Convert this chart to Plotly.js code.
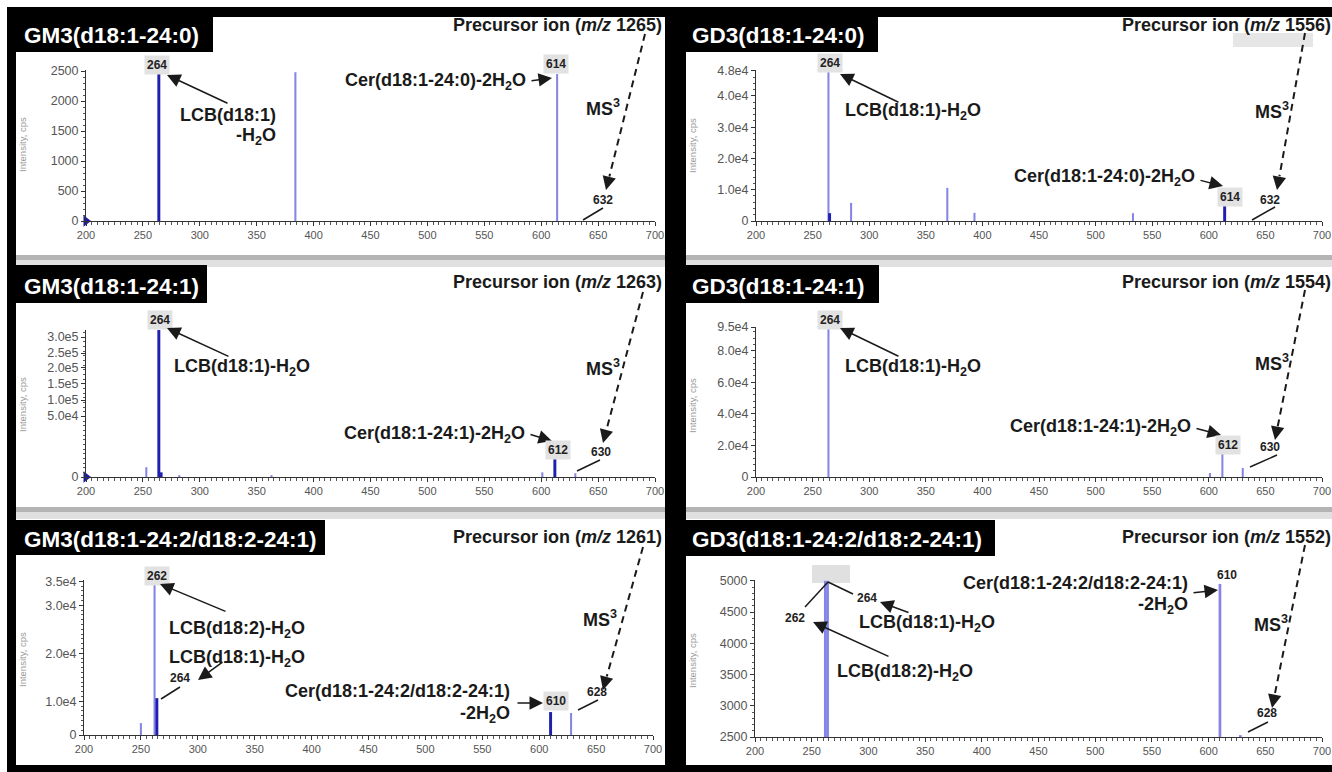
<!DOCTYPE html>
<html><head><meta charset="utf-8">
<script src="https://cdn.plot.ly/plotly-3.0.1.min.js"></script>
<style>html,body{margin:0;padding:0;background:#fff}</style>
</head><body><div id="chart" style="width:1332px;height:772px"></div>
<script>
// ---------------- DATA ----------------
const xTickVals = [200, 250, 300, 350, 400, 450, 500, 550, 600, 650, 700];
const xTickLabels = ['200','250','300','350','400','450','500','550','600','650','700'];

// GM3(d18:1-24:0)
const gm3_240_mz  = [264, 384, 614];
const gm3_240_int = [2500, 2480, 2450];
const gm3_240_yticks = [0, 500, 1000, 1500, 2000, 2500];
const gm3_240_ylabels = ['0','500','1000','1500','2000','2500'];

// GD3(d18:1-24:0)
const gd3_240_mz  = [264, 265, 284, 369, 393, 533, 614];
const gd3_240_int = [48000, 2500, 5800, 10600, 2600, 2500, 5500];
const gd3_240_yticks = [0, 10000, 20000, 30000, 40000, 48000];
const gd3_240_ylabels = ['0','1.0e4','2.0e4','3.0e4','4.0e4','4.8e4'];

// GM3(d18:1-24:1)
const gm3_241_mz  = [253, 264, 266, 282, 363, 601, 612, 630];
const gm3_241_int = [21000, 315000, 10000, 4000, 4000, 10000, 39000, 8000];
const gm3_241_yticks = [0, 130700, 165000, 199300, 233600, 265700, 300000];
const gm3_241_ylabels = ['0','5.0e4','1.0e5','1.5e5','2.0e5','2.5e5','3.0e5'];

// GD3(d18:1-24:1)
const gd3_241_mz  = [264, 601, 612, 630];
const gd3_241_int = [95000, 2500, 15200, 5700];
const gd3_241_yticks = [0, 20000, 40000, 60000, 80000, 95000];
const gd3_241_ylabels = ['0','2.0e4','4.0e4','6.0e4','8.0e4','9.5e4'];

// GM3(d18:1-24:2/d18:2-24:1)
const gm3_242_mz  = [250, 262, 264, 610, 628];
const gm3_242_int = [5600, 35000, 10800, 7900, 7700];
const gm3_242_yticks = [3125, 10000, 20000, 30000, 35000];
const gm3_242_ylabels = ['0','1.0e4','2.0e4','3.0e4','3.5e4'];

// GD3(d18:1-24:2/d18:2-24:1)
const gd3_242_mz  = [262, 264, 610, 628];
const gd3_242_int = [5000, 5000, 4950, 2530];
const gd3_242_yticks = [2500, 3000, 3500, 4000, 4500, 5000];
const gd3_242_ylabels = ['2500','3000','3500','4000','4500','5000'];

const titles = ['GM3(d18:1-24:0)','GD3(d18:1-24:0)','GM3(d18:1-24:1)','GD3(d18:1-24:1)',
                'GM3(d18:1-24:2/d18:2-24:1)','GD3(d18:1-24:2/d18:2-24:1)'];
const precursors = ['1265','1556','1263','1554','1261','1552'];

// ---------------- LAYOUT / STYLE ----------------
const W = 1332, H = 772;
const px = x => x / W, py = y => 1 - y / H;
const FONT = 'Arial, "Liberation Sans", Helvetica, sans-serif';
const LAV = '#8585e6', DARK = '#2020b0';

const panels = [
  {mz:gm3_240_mz, it:gm3_240_int, dark:[264], xd:[86,655], yd:[70,221], yr:[0,2517], tv:gm3_240_yticks, tt:gm3_240_ylabels, ydt:100, mark:true, w:1.8},
  {mz:gd3_240_mz, it:gd3_240_int, dark:[265,614], xd:[756,1322], yd:[70,221], yr:[0,48300], tv:gd3_240_yticks, tt:gd3_240_ylabels, ydt:2000, w:1.8},
  {mz:gm3_241_mz, it:gm3_241_int, dark:[264,266,612], xd:[86,655], yd:[330,477], yr:[0,315000], tv:gm3_241_yticks, tt:gm3_241_ylabels, ydt:10000, mark:true, w:1.8},
  {mz:gd3_241_mz, it:gd3_241_int, dark:[], xd:[756,1322], yd:[327,477], yr:[0,95000], tv:gd3_241_yticks, tt:gd3_241_ylabels, ydt:4000, w:1.8},
  {mz:gm3_242_mz, it:gm3_242_int, dark:[264,610], xd:[84,653], yd:[580,735], yr:[3125,35400], tv:gm3_242_yticks, tt:gm3_242_ylabels, ydt:1000, w:1.8},
  {mz:gd3_242_mz, it:gd3_242_int, dark:[], xd:[755,1322], yd:[580,737], yr:[2500,5013], tv:gd3_242_yticks, tt:gd3_242_ylabels, ydt:100, w:2.4}
];

const traces = [];
const layout = {
  width: W, height: H, margin: {l:0, r:0, t:0, b:0}, autosize: false,
  paper_bgcolor: '#ffffff', plot_bgcolor: '#ffffff', showlegend: false,
  barmode: 'overlay', font: {family: FONT}, shapes: [], annotations: []
};

panels.forEach((p, i) => {
  const s = i ? String(i + 1) : '';
  const base = p.yr[0];
  traces.push({
    type: 'bar', x: p.mz, y: p.it.map(v => v - base), base: base,
    width: p.mz.map(m => p.dark.includes(m) ? 2.6 : p.w),
    marker: {color: p.mz.map(m => p.dark.includes(m) ? DARK : LAV), line: {width: 0}},
    xaxis: 'x' + s, yaxis: 'y' + s, hoverinfo: 'skip'
  });
  if (p.mark) {
    traces.push({type:'scatter', mode:'markers', x:[200], y:[p.yr[0]], cliponaxis:false,
      marker:{symbol:'triangle-right', size:10, color:'#1a1aa0'}, xaxis:'x'+s, yaxis:'y'+s, hoverinfo:'skip'});
  }
  layout['xaxis' + s] = {
    domain: [px(p.xd[0]), px(p.xd[1])], range: [200, 700], anchor: 'y' + s,
    tickmode: 'array', tickvals: xTickVals, ticktext: xTickLabels,
    ticks: 'outside', ticklen: 4, tickwidth: 1, tickcolor: '#333',
    showline: true, linecolor: '#333', linewidth: 1, showgrid: false, zeroline: false,
    tickfont: {family: FONT, size: 11, color: '#555'},
    minor: {ticks: 'outside', ticklen: 2.5, dtick: 5, tick0: 200, tickcolor: '#555', showgrid: false},
    fixedrange: true
  };
  layout['yaxis' + s] = {
    domain: [py(p.yd[1]), py(p.yd[0])], range: p.yr, anchor: 'x' + s,
    tickmode: 'array', tickvals: p.tv, ticktext: p.tt,
    ticks: 'outside', ticklen: 4, tickwidth: 1, tickcolor: '#333',
    showline: true, linecolor: '#333', linewidth: 1, showgrid: false, zeroline: false,
    tickfont: {family: FONT, size: 12.5, color: '#555'},
    minor: {ticks: 'outside', ticklen: 2.5, dtick: p.ydt, tick0: p.yr[0], tickcolor: '#555', showgrid: false},
    fixedrange: true
  };
});

// ---------- helpers for decoration ----------
const S = layout.shapes, A = layout.annotations;
function rect(x0, y0, x1, y1, color) {
  S.push({type:'rect', xref:'paper', yref:'paper', x0:px(x0), x1:px(x1), y0:py(y1), y1:py(y0),
          fillcolor:color, line:{width:0}, layer:'below'});
}
function seg(x0, y0, x1, y1, opts) {
  S.push(Object.assign({type:'line', xref:'paper', yref:'paper', x0:px(x0), y0:py(y0), x1:px(x1), y1:py(y1),
          line:{color:'#1a1a1a', width:1.5}}, opts || {}));
}
function T(x, y, text, anchor, size, extra) {
  A.push(Object.assign({xref:'paper', yref:'paper', x:px(x), y:py(y), text:text, showarrow:false,
    xanchor: anchor || 'center', yanchor:'middle',
    font:{family:FONT, size: size || 18, color:'#1a1a1a', weight:700}}, extra || {}));
}
function L(x, y, text, box) {
  const o = {xref:'paper', yref:'paper', x:px(x), y:py(y), text:text, showarrow:false,
    xanchor:'center', yanchor:'middle', font:{family:FONT, size:12, color:'#222', weight:700}};
  if (box) { o.bgcolor = '#e2e2e2'; o.borderpad = 2; }
  A.push(o);
}
function AR(tx, ty, hx, hy) {
  A.push({xref:'paper', yref:'paper', x:px(hx), y:py(hy), ax:tx - hx, ay:ty - hy, text:'',
    showarrow:true, arrowhead:2, arrowsize:1.8, arrowwidth:1.5, arrowcolor:'#1a1a1a'});
}
function dashed(sx, sy, hx, hy) {
  const dx = hx - sx, dy = hy - sy, len = Math.hypot(dx, dy);
  const tx = hx - 14 * dx / len, ty = hy - 14 * dy / len;
  seg(sx, sy, tx, ty, {line:{color:'#1a1a1a', width:2, dash:'7px,5px'}});
  AR(tx, ty, hx, hy);
}

// ---------- frame ----------
rect(7, 7, 1332, 17, '#000');
rect(7, 7, 16, 772, '#000');
rect(665, 7, 686, 772, '#000');
rect(7, 765, 1332, 772, '#000');
[[255, 260, 267], [507, 512, 519]].forEach(b => {
  rect(16, b[0], 665, b[1], '#b4b4b4'); rect(16, b[1], 665, b[2], '#e0e0e0');
  rect(686, b[0], 1332, b[1], '#b4b4b4'); rect(686, b[1], 1332, b[2], '#e0e0e0');
});
// title boxes
const tb = [[7,17,213,52,22,36],[670,17,878,52,690,36],[7,265,207,303,22,286],
            [670,265,879,303,690,286],[7,520,325,555,22,539],[670,520,995,556,690,539]];
tb.forEach((b, i) => {
  rect(b[0], b[1], b[2], b[3], '#000');
  T(b[4], b[5], titles[i], 'left', 22.5, {font:{family:FONT, size:22.5, color:'#fff', weight:700}});
});
// y axis titles
[[22,145],[692,145],[22,405],[692,405],[22,660],[692,660]].forEach(c => {
  T(c[0], c[1], 'Intensity, cps', 'center', 9.5, {textangle:-90, font:{family:FONT, size:9.5, color:'#9a9a9a', weight:400}});
});
// precursor labels
[[664,25],[1333,25],[664,282],[1333,282],[664,537],[1333,537]].forEach((c, i) => {
  T(c[0], c[1], 'Precursor ion (<i>m/z</i> ' + precursors[i] + ')', 'right', 18);
});

// ---------- panel 1 ----------
L(157, 65, '264', true);
AR(229, 104, 167, 75);
T(278, 115, 'LCB(d18:1)', 'right');
T(278, 137, '-H<sub>2</sub>O', 'right');
L(556, 64, '614', true);
T(528, 81, 'Cer(d18:1-24:0)-2H<sub>2</sub>O', 'right');
AR(530, 81, 552, 78);
dashed(645, 34, 606, 190);
T(603, 107, 'MS<sup>3</sup>');
L(603, 200, '632');
seg(603, 208, 583, 220);

// ---------- panel 2 ----------
L(830, 63, '264', true);
AR(900, 103, 840, 74);
T(843, 112, 'LCB(d18:1)-H<sub>2</sub>O', 'left');
T(1197, 178, 'Cer(d18:1-24:0)-2H<sub>2</sub>O', 'right');
AR(1199, 180, 1223, 186);
L(1230, 197, '614', true);
L(1270, 200, '632');
seg(1275, 207, 1252, 220);
rect(1233, 33, 1313, 47, '#e6e6e6');
dashed(1305, 33, 1277, 190);
T(1272, 110, 'MS<sup>3</sup>');

// ---------- panel 3 ----------
L(160, 320, '264', true);
AR(230, 357, 167, 328);
T(172, 367, 'LCB(d18:1)-H<sub>2</sub>O', 'left');
T(527, 434, 'Cer(d18:1-24:1)-2H<sub>2</sub>O', 'right');
AR(529, 434, 552, 441);
L(558, 450, '612', true);
L(601, 452, '630');
seg(600, 460, 577, 471);
dashed(643, 292, 603, 443);
T(603, 367, 'MS<sup>3</sup>');

// ---------- panel 4 ----------
L(830, 320, '264', true);
AR(900, 357, 840, 328);
T(843, 367, 'LCB(d18:1)-H<sub>2</sub>O', 'left');
T(1193, 427, 'Cer(d18:1-24:1)-2H<sub>2</sub>O', 'right');
AR(1195, 428, 1221, 435);
L(1228, 445, '612', true);
L(1270, 447, '630');
seg(1277, 455, 1250, 467);
dashed(1305, 290, 1275, 440);
T(1272, 362, 'MS<sup>3</sup>');

// ---------- panel 5 ----------
L(157, 576, '262', true);
AR(227, 612, 160, 584);
T(167, 629, 'LCB(d18:2)-H<sub>2</sub>O', 'left');
T(167, 658, 'LCB(d18:1)-H<sub>2</sub>O', 'left');
AR(224, 661, 198, 680);
L(180, 678, '264');
seg(180, 687, 161, 699);
T(512, 691, 'Cer(d18:1-24:2/d18:2-24:1)', 'right');
T(512, 714, '-2H<sub>2</sub>O', 'right');
L(556, 701, '610', true);
AR(516, 703, 543, 703);
L(597, 692, '628');
seg(598, 700, 578, 710);
dashed(643, 547, 603, 690);
T(600, 618, 'MS<sup>3</sup>');

// ---------- panel 6 ----------
rect(812, 565, 850, 583, '#e0e0e0');
seg(828, 582, 805, 607);
seg(828, 582, 853, 594);
L(795, 618, '262');
L(867, 598, '264');
AR(910, 613, 880, 602);
T(857, 623, 'LCB(d18:1)-H<sub>2</sub>O', 'left');
AR(890, 657, 813, 622);
T(835, 672, 'LCB(d18:2)-H<sub>2</sub>O', 'left');
T(1190, 583, 'Cer(d18:1-24:2/d18:2-24:1)', 'right');
T(1190, 605, '-2H<sub>2</sub>O', 'right');
AR(1192, 593, 1218, 590);
L(1227, 575, '610');
L(1267, 713, '628');
seg(1268, 722, 1248, 732);
dashed(1305, 545, 1272, 708);
T(1271, 623, 'MS<sup>3</sup>');

Plotly.newPlot('chart', traces, layout, {displayModeBar: false, staticPlot: true});
</script>
</body></html>
